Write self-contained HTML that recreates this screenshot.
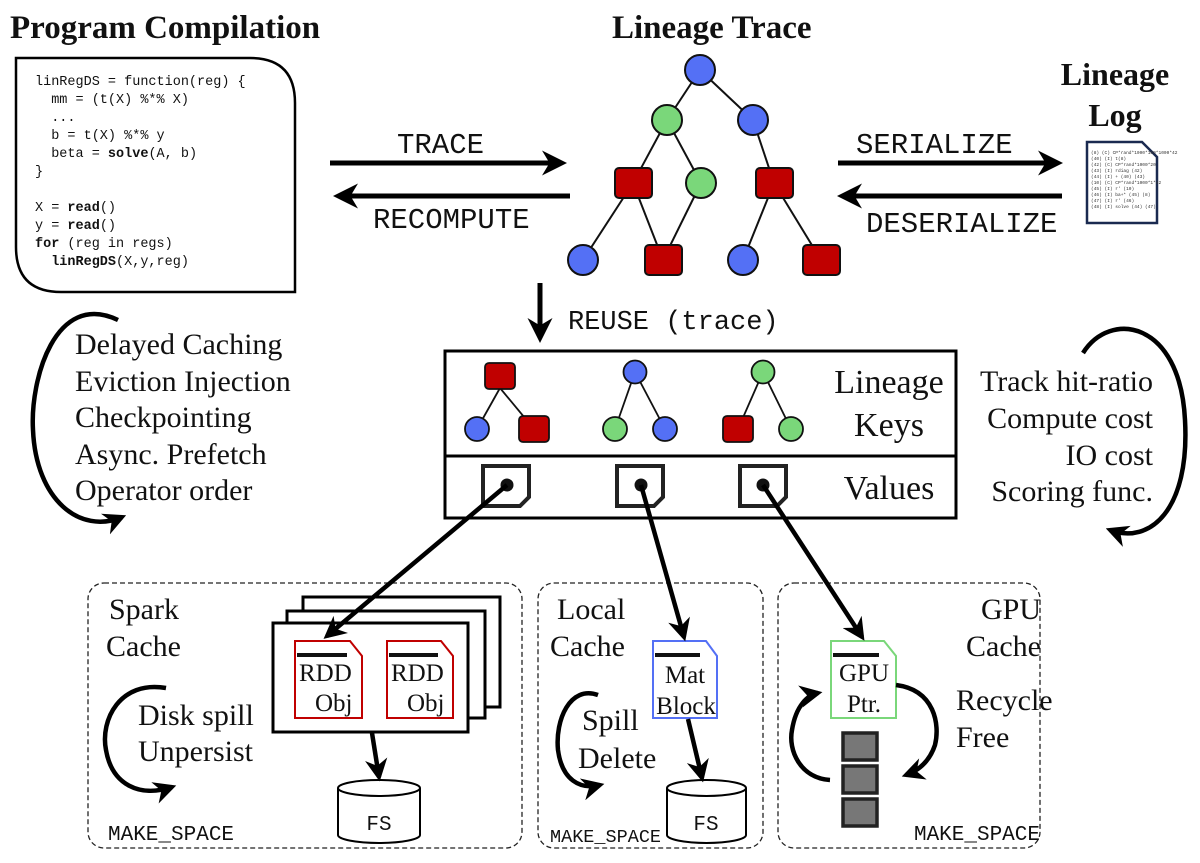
<!DOCTYPE html>
<html><head><meta charset="utf-8"><style>
html,body{margin:0;padding:0;background:#fff}
svg{display:block}
.s{font-family:"Liberation Serif",serif;fill:#111}
.m{font-family:"Liberation Mono",monospace;fill:#111}
</style></head><body>
<svg width="1200" height="863" viewBox="0 0 1200 863" xmlns="http://www.w3.org/2000/svg">
<defs>
<marker id="ah" viewBox="0 0 10 10" refX="8" refY="5" markerWidth="5" markerHeight="5" orient="auto-start-reverse" markerUnits="strokeWidth">
<path d="M0,0 L10,5 L0,10 L3,5 z" fill="#000"/></marker>
</defs>
<text x="10" y="38" class="s" font-size="33" font-weight="bold">Program Compilation</text>
<text x="612" y="38" class="s" font-size="33" font-weight="bold">Lineage Trace</text>
<text x="1115" y="85" class="s" font-size="32" font-weight="bold" text-anchor="middle">Lineage</text>
<text x="1115" y="126" class="s" font-size="32" font-weight="bold" text-anchor="middle">Log</text>

<path d="M16,58 H250 Q295,58 295,103 V292 H61 Q16,292 16,247 Z" fill="#fff" stroke="#000" stroke-width="2.5"/>
<g class="m" font-size="13.5">
<text x="35" y="85">linRegDS = function(reg) {</text>
<text x="35" y="103">&#160;&#160;mm = (t(X) %*% X)</text>
<text x="35" y="121">&#160;&#160;...</text>
<text x="35" y="139">&#160;&#160;b = t(X) %*% y</text>
<text x="35" y="157">&#160;&#160;beta = <tspan font-weight="bold">solve</tspan>(A, b)</text>
<text x="35" y="175">}</text>
<text x="35" y="211">X = <tspan font-weight="bold">read</tspan>()</text>
<text x="35" y="229">y = <tspan font-weight="bold">read</tspan>()</text>
<text x="35" y="247"><tspan font-weight="bold">for</tspan> (reg in regs)</text>
<text x="35" y="265">&#160;&#160;<tspan font-weight="bold">linRegDS</tspan>(X,y,reg)</text>
</g>

<g stroke="#000" stroke-width="5" fill="none">
<line x1="330" y1="163" x2="562" y2="163" marker-end="url(#ah)"/>
<line x1="570" y1="196" x2="338" y2="196" marker-end="url(#ah)"/>
<line x1="838" y1="163" x2="1058" y2="163" marker-end="url(#ah)"/>
<line x1="1062" y1="196" x2="842" y2="196" marker-end="url(#ah)"/>
<line x1="540" y1="283" x2="540" y2="338" marker-end="url(#ah)"/>
</g>
<g class="m" font-size="29">
<text x="397" y="153">TRACE</text>
<text x="373" y="228">RECOMPUTE</text>
<text x="856" y="153">SERIALIZE</text>
<text x="866" y="232">DESERIALIZE</text>
<text x="568" y="329" font-size="27">REUSE (trace)</text>
</g>

<path d="M1087,142 H1142 L1157,157 V223 H1087 Z" fill="#fff" stroke="#1a2a50" stroke-width="2.5"/>
<g font-family="Liberation Mono,monospace" font-size="4.5" fill="#333">
<text x="1091" y="154">(8) (C) CP*rand*1000*100*1000*42</text>
<text x="1091" y="160">(40) (I) t(8)</text>
<text x="1091" y="166">(42) (C) CP*rand*1000*20</text>
<text x="1091" y="172">(43) (I) rdiag (42)</text>
<text x="1091" y="178">(44) (I) + (40) (43)</text>
<text x="1091" y="184">(10) (C) CP*rand*1000*1*42</text>
<text x="1091" y="190">(45) (I) r' (10)</text>
<text x="1091" y="196">(46) (I) ba+* (45) (8)</text>
<text x="1091" y="202">(47) (I) r' (46)</text>
<text x="1091" y="208">(48) (I) solve (44) (47)</text>
</g>

<g stroke="#111" stroke-width="2" fill="none">
<line x1="700" y1="70" x2="667" y2="120"/><line x1="700" y1="70" x2="753" y2="120"/>
<line x1="667" y1="120" x2="633" y2="183"/><line x1="667" y1="120" x2="701" y2="183"/>
<line x1="753" y1="120" x2="774" y2="183"/>
<line x1="633" y1="183" x2="583" y2="260"/><line x1="633" y1="183" x2="663" y2="260"/>
<line x1="701" y1="183" x2="663" y2="260"/>
<line x1="774" y1="183" x2="743" y2="260"/><line x1="774" y1="183" x2="821" y2="260"/>
</g>
<g stroke="#111" stroke-width="2">
<circle cx="700" cy="70" r="15" fill="#5470f5"/>
<circle cx="667" cy="120" r="15" fill="#7ad77a"/>
<circle cx="753" cy="120" r="15" fill="#5470f5"/>
<rect x="615" y="168" width="37" height="30" rx="4" fill="#c00000"/>
<circle cx="701" cy="183" r="15" fill="#7ad77a"/>
<rect x="756" y="168" width="37" height="30" rx="4" fill="#c00000"/>
<circle cx="583" cy="260" r="15" fill="#5470f5"/>
<rect x="645" y="245" width="37" height="30" rx="4" fill="#c00000"/>
<circle cx="743" cy="260" r="15" fill="#5470f5"/>
<rect x="803" y="245" width="37" height="30" rx="4" fill="#c00000"/>
</g>

<rect x="445" y="351" width="511" height="167" fill="#fff" stroke="#000" stroke-width="3"/>
<line x1="445" y1="456" x2="956" y2="456" stroke="#000" stroke-width="3"/>
<g stroke="#111" stroke-width="1.8">
<line x1="500" y1="388" x2="477" y2="429"/><line x1="500" y1="388" x2="534" y2="429"/>
<line x1="635" y1="372" x2="615" y2="429"/><line x1="635" y1="372" x2="665" y2="429"/>
<line x1="763" y1="372" x2="738" y2="429"/><line x1="763" y1="372" x2="791" y2="429"/>
<rect x="485" y="363" width="30" height="26" rx="4" fill="#c00000"/>
<circle cx="477" cy="429" r="12" fill="#5470f5"/>
<rect x="519" y="416" width="30" height="26" rx="4" fill="#c00000"/>
<circle cx="635" cy="372" r="11.5" fill="#5470f5"/>
<circle cx="615" cy="429" r="12" fill="#7ad77a"/>
<circle cx="665" cy="429" r="12" fill="#5470f5"/>
<circle cx="763" cy="372" r="11.5" fill="#7ad77a"/>
<rect x="723" y="416" width="30" height="26" rx="4" fill="#c00000"/>
<circle cx="791" cy="429" r="12" fill="#7ad77a"/>
</g>
<text x="889" y="393" class="s" font-size="34" text-anchor="middle">Lineage</text>
<text x="889" y="436" class="s" font-size="34" text-anchor="middle">Keys</text>
<text x="889" y="499" class="s" font-size="34" text-anchor="middle">Values</text>
<g fill="#fff" stroke="#222" stroke-width="4">
<path d="M483,466 H529 V497 L520,506 H483 Z"/>
<path d="M617,466 H663 V497 L654,506 H617 Z"/>
<path d="M740,466 H786 V497 L777,506 H740 Z"/>
</g>
<g fill="#111"><circle cx="507" cy="485" r="6.5"/><circle cx="641" cy="485" r="6.5"/><circle cx="763" cy="485" r="6.5"/></g>

<g class="s" font-size="30">
<text x="75" y="354">Delayed Caching</text>
<text x="75" y="391">Eviction Injection</text>
<text x="75" y="427">Checkpointing</text>
<text x="75" y="464">Async. Prefetch</text>
<text x="75" y="500">Operator order</text>
</g>
<g class="s" font-size="30" text-anchor="end">
<text x="1153" y="391">Track hit-ratio</text>
<text x="1153" y="428">Compute cost</text>
<text x="1153" y="465">IO cost</text>
<text x="1153" y="501">Scoring func.</text>
</g>
<g stroke="#000" stroke-width="4.5" fill="none">
<path d="M118,320 C55,290 30,380 33,430 C36,500 80,535 122,517" marker-end="url(#ah)"/>
<path d="M1083,353 C1110,310 1180,320 1185,420 C1190,510 1150,545 1110,530" marker-end="url(#ah)"/>
</g>

<g fill="none" stroke="#222" stroke-width="1.3" stroke-dasharray="5,3">
<rect x="88" y="583" width="434" height="265" rx="16"/>
<rect x="538" y="583" width="225" height="265" rx="16"/>
<rect x="778" y="583" width="262" height="265" rx="16"/>
</g>
<g class="s" font-size="30">
<text x="109" y="619">Spark</text><text x="106" y="656">Cache</text>
<text x="138" y="725">Disk spill</text><text x="138" y="761">Unpersist</text>
<text x="557" y="619">Local</text><text x="550" y="656">Cache</text>
<text x="582" y="730">Spill</text><text x="578" y="768">Delete</text>
<text x="1041" y="619" text-anchor="end">GPU</text><text x="1041" y="656" text-anchor="end">Cache</text>
<text x="956" y="710">Recycle</text><text x="956" y="747">Free</text>
</g>
<g class="m" font-size="21">
<text x="108" y="840">MAKE_SPACE</text>
<text x="550" y="842" font-size="18.5">MAKE_SPACE</text>
<text x="1040" y="840" text-anchor="end">MAKE_SPACE</text>
</g>
<g fill="#fff" stroke="#000" stroke-width="3">
<rect x="303" y="597" width="197" height="110"/>
<rect x="287" y="611" width="198" height="107"/>
<rect x="273" y="623" width="195" height="109"/>
</g>
<g fill="#fff" stroke-width="2">
<path d="M295,641 H350 L362,656 V718 H295 Z" stroke="#c00000"/>
<path d="M387,641 H441 L453,656 V718 H387 Z" stroke="#c00000"/>
<path d="M653,641 H706 L717,656 V718 H653 Z" stroke="#5470f5"/>
<path d="M831,641 H884 L896,656 V718 H831 Z" stroke="#7ad77a"/>
</g>
<g stroke="#111" stroke-width="4">
<line x1="297" y1="655" x2="347" y2="655"/><line x1="389" y1="655" x2="438" y2="655"/>
<line x1="655" y1="655" x2="700" y2="655"/><line x1="833" y1="655" x2="879" y2="655"/>
</g>
<g class="s" font-size="25">
<text x="299" y="681">RDD</text><text x="315" y="711">Obj</text>
<text x="391" y="681">RDD</text><text x="407" y="711">Obj</text>
<text x="685" y="683" text-anchor="middle">Mat</text><text x="686" y="714" text-anchor="middle">Block</text>
<text x="864" y="681" text-anchor="middle">GPU</text><text x="864" y="712" text-anchor="middle">Ptr.</text>
</g>
<g fill="#fff" stroke="#000" stroke-width="2">
<path d="M338,788 V835 A41,8 0 0 0 420,835 V788"/>
<ellipse cx="379" cy="788" rx="41" ry="8"/>
<path d="M667,788 V835 A39.5,8 0 0 0 746,835 V788"/>
<ellipse cx="706.5" cy="788" rx="39.5" ry="8"/>
</g>
<text x="379" y="830" class="m" font-size="21" text-anchor="middle">FS</text>
<text x="706" y="830" class="m" font-size="21" text-anchor="middle">FS</text>
<g fill="#777" stroke="#222" stroke-width="3.5">
<rect x="843" y="733" width="34" height="27"/>
<rect x="843" y="766" width="34" height="27"/>
<rect x="843" y="799" width="34" height="27"/>
</g>
<g stroke="#000" stroke-width="4.5" fill="none">
<line x1="507" y1="485" x2="327" y2="636" marker-end="url(#ah)"/>
<line x1="641" y1="485" x2="684" y2="637" marker-end="url(#ah)"/>
<line x1="763" y1="485" x2="862" y2="637" marker-end="url(#ah)"/>
<line x1="372" y1="733" x2="379" y2="777" marker-end="url(#ah)"/>
<line x1="688" y1="719" x2="702" y2="778" marker-end="url(#ah)"/>
<path d="M166,688 C120,680 100,720 106,750 C112,785 140,798 172,787" marker-end="url(#ah)"/>
<path d="M598,695 C570,685 555,720 558,750 C562,780 580,790 600,785" marker-end="url(#ah)"/>
<path d="M830,780 C800,778 788,750 792,730 C796,705 808,695 818,693" marker-end="url(#ah)"/>
<path d="M896,685 C935,690 940,725 935,745 C930,760 920,770 906,775" marker-end="url(#ah)"/>
</g>
</svg>
</body></html>
